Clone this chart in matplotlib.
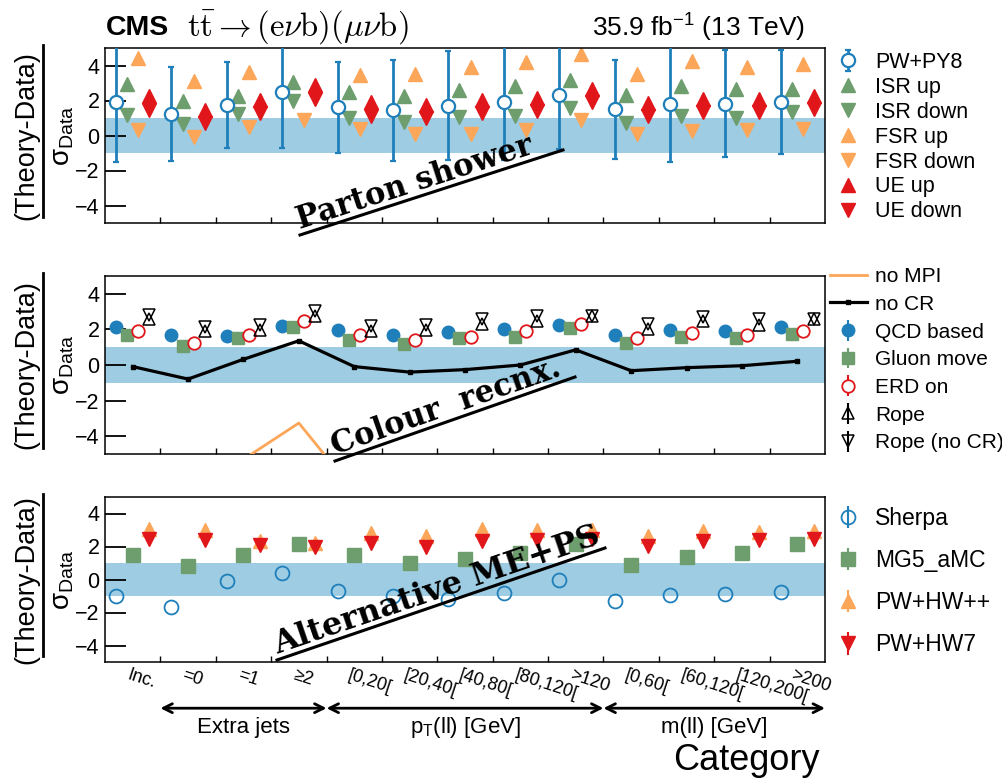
import numpy as np
import matplotlib
matplotlib.use('Agg')
from matplotlib import pyplot as plt
from matplotlib.lines import Line2D
from matplotlib.transforms import blended_transform_factory

plt.rcParams['font.family'] = ['Liberation Sans', 'DejaVu Sans']
plt.rcParams['mathtext.fontset'] = 'custom'
plt.rcParams['mathtext.rm'] = 'Liberation Sans'
plt.rcParams['mathtext.it'] = 'Liberation Sans:italic'

# categories
cat_labels = ['Inc.', '=0', '=1', '≥2', '[0,20[', '[20,40[', '[40,80[',
              '[80,120[', '>120', '[0,60[', '[60,120[', '[120,200[', '>200']

# parton shower panel
pwpy8 = [1.94, 1.24, 1.75, 2.48, 1.62, 1.43, 1.71, 1.90, 2.32, 1.49, 1.81, 1.81, 1.90]
pwpy8_err = [3.43, 2.69, 2.47, 3.18, 2.60, 2.87, 3.10, 3.30, 3.08, 2.85, 3.30, 3.05, 2.97]
isr_up = [2.95, 1.96, 2.25, 3.05, 2.51, 2.23, 2.60, 2.82, 3.20, 2.32, 2.82, 2.67, 2.67]
isr_down = [1.20, 0.63, 1.24, 2.00, 1.01, 0.76, 1.03, 1.09, 1.56, 0.70, 1.14, 1.01, 1.37]
fsr_up = [4.44, 3.14, 3.62, 5.60, 3.47, 3.52, 3.90, 4.19, 4.67, 3.52, 4.23, 3.94, 4.10]
fsr_down = [0.29, -0.06, 0.48, 0.90, 0.38, 0.06, 0.10, 0.32, 0.86, 0.10, 0.25, 0.32, 0.38]
ue_up = [2.23, 1.47, 2.04, 2.86, 1.90, 1.75, 2.04, 2.15, 2.67, 1.85, 2.09, 2.09, 2.25]
ue_down = [1.47, 0.71, 1.28, 2.10, 1.14, 0.99, 1.28, 1.39, 1.91, 1.09, 1.33, 1.33, 1.49]

# colour reconnection panel
no_mpi = [-9.0, -8.5, -5.3, -3.26, -7.1, -9.0, -9.0, -8.5, -7.5, -9.0, -9.0, -9.0, -8.5]
no_cr = [-0.09, -0.79, 0.32, 1.36, -0.09, -0.40, -0.26, 0.00, 0.85, -0.32, -0.15, -0.04, 0.21]
qcd_based = [2.13, 1.66, 1.64, 2.21, 1.94, 1.66, 1.87, 2.02, 2.26, 1.66, 1.98, 1.89, 2.11]
gluon_move = [1.66, 1.08, 1.51, 2.13, 1.42, 1.19, 1.51, 1.55, 2.08, 1.26, 1.60, 1.51, 1.74]
erd_on = [1.92, 1.23, 1.66, 2.45, 1.66, 1.42, 1.60, 1.92, 2.32, 1.51, 1.79, 1.70, 1.89]
rope = [2.58, 1.89, 1.98, 2.74, 1.92, 1.98, 2.30, 2.49, 2.74, 2.04, 2.45, 2.25, 2.60]
rope_nocr = [2.83, 2.11, 2.26, 3.02, 2.19, 2.25, 2.60, 2.77, 2.74, 2.30, 2.72, 2.60, 2.60]

# alternative ME+PS panel
sherpa = [-1.02, -1.67, -0.12, 0.41, -0.67, -0.98, -1.20, -0.82, -0.04, -1.33, -0.92, -0.86, -0.76]
mg5 = [1.49, 0.82, 1.47, 2.18, 1.47, 1.02, 1.27, 1.63, 2.14, 0.86, 1.37, 1.59, 2.14]
pw_hwpp = [3.06, 3.02, 2.35, 2.24, 2.80, 2.61, 3.06, 3.02, 3.00, 2.61, 2.96, 2.86, 2.96]
pw_hw7 = [2.45, 2.41, 2.08, 1.98, 2.24, 2.00, 2.35, 2.41, 2.45, 2.04, 2.35, 2.41, 2.45]

blue = '#1f7fba'
band = '#9ecde3'
green = '#6e9e6e'
orange = '#fca65a'
red = '#e0161b'

W, H = 1003, 780
def fx(x):
    return x / W
def fy(y):
    return 1 - y / H

fig = plt.figure(figsize=(10.03, 7.8), dpi=100)
ax1 = fig.add_axes([fx(105), fy(223), fx(720), 175 / H])
ax2 = fig.add_axes([fx(105), fy(454), fx(720), 178 / H])
ax3 = fig.add_axes([fx(105), fy(662), fx(720), 165 / H])

x = np.arange(13)
zeros = np.zeros(13)

for ax in (ax1, ax2, ax3):
    ax.axhspan(-1, 1, color=band, lw=0, zorder=0)
    ax.set_xlim(0, 13)
    ax.set_ylim(-5, 5)
    ax.set_xticks(range(1, 13))
    ax.set_xticklabels([])
    ax.set_yticks([-4, -2, 0, 2, 4])
    ax.set_yticklabels(['\u22124', '\u22122', '0', '2', '4'])
    ax.tick_params(axis='x', direction='in', length=4, width=1)
    ax.tick_params(axis='y', direction='in', length=15, width=1.3, labelsize=15.5, pad=4)
    for s in ax.spines.values():
        s.set_linewidth(1.1)

# --- top panel
e1 = ax1.errorbar(x + 0.2, pwpy8, yerr=pwpy8_err, fmt='o', ms=9.5, mfc='white', mec=blue,
                  mew=1.6, ecolor=blue, elinewidth=2, capsize=2, capthick=2, zorder=5)
h_isru, = ax1.plot(x + 0.4, isr_up, '^', ms=9.5, color=green, ls='none')
h_isrd, = ax1.plot(x + 0.4, isr_down, 'v', ms=9.5, color=green, ls='none')
h_fsru, = ax1.plot(x + 0.6, fsr_up, '^', ms=9.5, color=orange, ls='none')
h_fsrd, = ax1.plot(x + 0.6, fsr_down, 'v', ms=9.5, color=orange, ls='none')
h_ueu, = ax1.plot(x + 0.8, ue_up, '^', ms=9.5, color=red, ls='none')
h_ued, = ax1.plot(x + 0.8, ue_down, 'v', ms=9.5, color=red, ls='none')

fs1 = 15.5
ax1.legend([e1, h_isru, h_isrd, h_fsru, h_fsrd, h_ueu, h_ued],
           ['PW+PY8', 'ISR up', 'ISR down', 'FSR up', 'FSR down', 'UE up', 'UE down'],
           loc='upper left', bbox_to_anchor=(fx(830), fy(52)), bbox_transform=fig.transFigure,
           frameon=False, fontsize=fs1, borderpad=0, borderaxespad=0,
           handlelength=37 / (fs1 * 1.389), handletextpad=8 / (fs1 * 1.389), labelspacing=0.18)

# --- middle panel
h_mpi, = ax2.plot(x + 0.5, no_mpi, color=orange, lw=2, zorder=3)
h_cr, = ax2.plot(x + 0.5, no_cr, color='black', lw=2.3, marker='s', ms=3, zorder=3)
e_qcd = ax2.errorbar(x + 0.2, qcd_based, yerr=zeros, fmt='o', ms=9, color=blue, zorder=4)
e_glu = ax2.errorbar(x + 0.4, gluon_move, yerr=zeros, fmt='s', ms=9, color=green, zorder=4)
e_erd = ax2.errorbar(x + 0.6, erd_on, yerr=zeros, fmt='o', ms=9, mfc='white', mec=red,
                     ecolor=red, mew=1.3, zorder=5)
e_rope = ax2.errorbar(x + 0.8, rope, yerr=zeros, fmt='^', ms=9, mfc='none', mec='black',
                      ecolor='black', mew=1.1, zorder=5)
e_ropen = ax2.errorbar(x + 0.8, rope_nocr, yerr=zeros, fmt='v', ms=9, mfc='none', mec='black',
                       ecolor='black', mew=1.1, zorder=5)

fs2 = 15
ax2.legend([h_mpi, h_cr, e_qcd, e_glu, e_erd, e_rope, e_ropen],
           ['no MPI', 'no CR', 'QCD based', 'Gluon move', 'ERD on', 'Rope', 'Rope (no CR)'],
           loc='upper left', bbox_to_anchor=(fx(830), fy(267)), bbox_transform=fig.transFigure,
           frameon=False, fontsize=fs2, borderpad=0, borderaxespad=0,
           handlelength=37 / (fs2 * 1.389), handletextpad=8 / (fs2 * 1.389), labelspacing=0.42)

# --- bottom panel
e_sh = ax3.errorbar(x + 0.2, sherpa, yerr=zeros, fmt='o', ms=10, mfc='none', mec=blue,
                    ecolor=blue, mew=1.3, zorder=4)
e_mg = ax3.errorbar(x + 0.5, mg5, yerr=zeros, fmt='s', ms=9.5, color=green, zorder=4)
e_hpp = ax3.errorbar(x + 0.8, pw_hwpp, yerr=zeros, fmt='^', ms=9.5, color=orange, zorder=4)
e_h7 = ax3.errorbar(x + 0.8, pw_hw7, yerr=zeros, fmt='v', ms=9.5, color=red, zorder=5)

fs3 = 16.5
ax3.legend([e_sh, e_mg, e_hpp, e_h7], ['Sherpa', 'MG5_aMC', 'PW+HW++', 'PW+HW7'],
           loc='upper left', bbox_to_anchor=(fx(830), fy(507)), bbox_transform=fig.transFigure,
           frameon=False, fontsize=fs3, borderpad=0, borderaxespad=0,
           handlelength=37 / (fs3 * 1.389), handletextpad=8 / (fs3 * 1.389), labelspacing=0.83)

# category labels
tr = blended_transform_factory(ax3.transData, ax3.transAxes)
for i, lab in enumerate(cat_labels):
    ax3.text(i + 0.45, -0.03, lab, transform=tr, rotation=-18, rotation_mode='anchor',
             ha='left', va='top', fontsize=13)

arrow_y = -0.28
for a, b in [(1, 4), (4, 9), (9, 13)]:
    ax3.annotate('', xy=(a, arrow_y), xytext=(b, arrow_y), xycoords=tr, textcoords=tr,
                 annotation_clip=False,
                 arrowprops=dict(arrowstyle='<->', lw=2, color='black', shrinkA=0, shrinkB=0,
                                 mutation_scale=16))
ax3.text(2.5, -0.40, 'Extra jets', transform=tr, ha='center', va='center', fontsize=16)
ax3.text(6.5, -0.40, 'p$_{\\mathrm{T}}$(ll) [GeV]', transform=tr, ha='center', va='center', fontsize=16)
ax3.text(11, -0.40, 'm(ll) [GeV]', transform=tr, ha='center', va='center', fontsize=16)
fig.text(fx(820), fy(760), 'Category', ha='right', va='center', fontsize=26)

# y-axis labels as fractions
for ytop, ybot in [(48, 223), (276, 454), (497, 662)]:
    yc = (ytop + ybot) / 2
    fig.text(fx(26), fy(yc), '(Theory-Data)', rotation=90, ha='center', va='center', fontsize=19.5)
    fig.add_artist(Line2D([fx(43), fx(43)], [fy(ytop - 3), fy(ybot - 6)],
                          transform=fig.transFigure, color='black', lw=2))
    fig.text(fx(63), fy(yc), 'σ$_{\\mathrm{Data}}$', rotation=90, ha='center', va='center',
             fontsize=20)

# header
fig.text(fx(106), fy(28), 'CMS', fontsize=20.5, fontweight='bold', ha='left', va='center')
fig.text(fx(187), fy(28), r'$\mathrm{t\bar{t}} \rightarrow (\mathrm{e}\nu\mathrm{b})(\mu\nu\mathrm{b})$',
         fontsize=23.5, ha='left', va='center', math_fontfamily='cm', color='black')
fig.text(fx(805), fy(28), '35.9 fb$^{-1}$ (13 TeV)', fontsize=19, ha='right', va='center')

# panel names, underlined and slanted
for txt, (x0, y0), (x1, y1), size in [
        ('Parton shower', (300, 235), (563, 150), 22),
        ('Colour  recnx.', (335, 461), (575, 377), 22),
        ('Alternative ME+PS', (277, 660), (605, 548), 23)]:
    ang = np.degrees(np.arctan2(y0 - y1, x1 - x0))
    fig.add_artist(Line2D([fx(x0), fx(x1)], [fy(y0), fy(y1)], transform=fig.transFigure,
                          color='black', lw=2.2))
    dx = 6 * np.sin(np.radians(ang))
    dy = 6 * np.cos(np.radians(ang))
    fig.text(fx(x0 + 2 - dx), fy(y0 - dy), txt, rotation=ang, rotation_mode='anchor',
             ha='left', va='baseline', fontsize=size, family='DejaVu Serif', fontweight='bold')

fig.savefig('out.png', dpi=100)
